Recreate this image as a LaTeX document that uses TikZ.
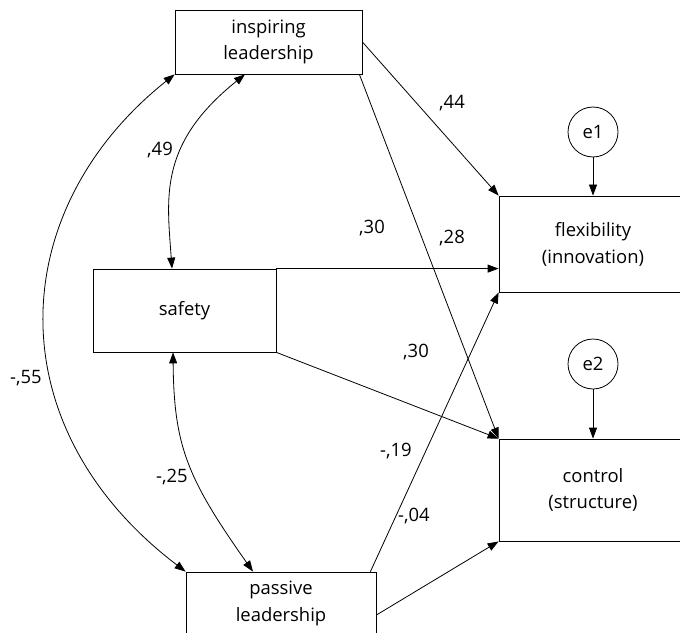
\documentclass[tikz,border=0pt]{standalone}
\usepackage{fontspec}
\setmainfont{Open Sans}
\usetikzlibrary{arrows.meta}
\begin{document}
\begin{tikzpicture}[x=1bp,y=-1bp,
  every node/.style={font=\fontsize{18.5}{27}\selectfont},
  box/.style={draw, line width=0.8bp, rectangle, align=center, inner sep=0pt},
  err/.style={draw, line width=0.8bp, circle, minimum size=50bp, inner sep=0pt},
  lbl/.style={inner sep=0pt},
  path/.style={line width=0.8bp, -{Triangle[length=11bp,width=8bp]}},
  cov/.style={line width=0.8bp, {Triangle[length=11bp,width=8bp]}-{Triangle[length=11bp,width=8bp]}}
]
\useasboundingbox (0,0) rectangle (680,633);
\clip (0,0) rectangle (680,633);

% variables
\node[box, minimum width=187bp, minimum height=64bp] (ins) at (268.5,42) {inspiring\\leadership};
\node[box, minimum width=183bp, minimum height=83bp] (saf) at (184.5,310.5) {safety};
\node[box, minimum width=190bp, minimum height=62bp] (pas) at (281,603) {passive\\leadership};
\node[box, minimum width=188bp, minimum height=96bp] (flex) at (593,244) {flexibility\\(innovation)};
\node[box, minimum width=188bp, minimum height=102bp] (ctrl) at (593,490) {control\\(structure)};
\node[err] (e1) at (593,132) {e1};
\node[err] (e2) at (593,364) {e2};

% regression paths
\draw[path] (ins.east) -- (flex.north west);
\draw[path] ([xshift=-3bp]ins.south east) -- (ctrl.north west);
\draw[path] (saf.north east) -- (saf.north east -| flex.west);
\draw[path] (saf.south east) -- (ctrl.north west);
\draw[path] ([xshift=-6bp]pas.north east) -- (flex.south west);
\draw[path] ([yshift=-12bp]pas.east) -- (ctrl.south west);
\draw[path] (e1) -- (flex);
\draw[path] (e2) -- (ctrl);

% covariances
\draw[cov] (ins.south west) .. controls (4.5,210) and (-4.5,427) .. (pas.north west);
\draw[cov] ([xshift=-23.5bp]ins.south) .. controls (158,144) and (167,198) .. ([xshift=-12.5bp]saf.north);
\draw[cov] ([xshift=-11.5bp]saf.south) .. controls (174,446) and (187,478) .. ([xshift=-28bp]pas.north);

% coefficients
\node[lbl] (l44) at (452,103) {,44};
\node[lbl] (l49) at (160,150) {,49};
\node[lbl] (l30a) at (372,228) {,30};
\node[lbl] (l28) at (452,238) {,28};
\node[lbl] (l30b) at (416,352) {,30};
\node[lbl] (l55) at (26,378) {-,55};
\node[lbl] (l25) at (172,477) {-,25};
\node[lbl] (l19) at (396,451) {-,19};
\node[lbl] (l04) at (414,516) {-,04};
\end{tikzpicture}
\end{document}
